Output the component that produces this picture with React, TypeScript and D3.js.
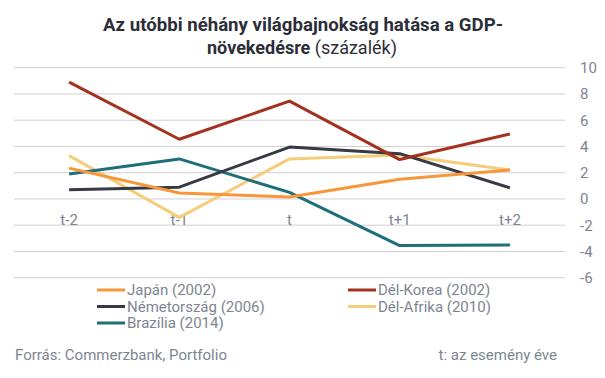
import React from "react";
import * as d3 from "d3";

const categories = ["t-2", "t-1", "t", "t+1", "t+2"];
const yTicks = [10, 8, 6, 4, 2, 0, -2, -4, -6];

const japan = [2.35, 0.45, 0.15, 1.5, 2.2];
const korea = [8.9, 4.55, 7.45, 3.0, 4.95];
const germany = [0.7, 0.9, 3.95, 3.45, 0.85];
const southAfrica = [3.3, -1.4, 3.05, 3.35, 2.2];
const brazil = [1.9, 3.05, 0.5, -3.55, -3.5];

const seriesNames = ["Japán (2002)", "Dél-Korea (2002)", "Németország (2006)", "Dél-Afrika (2010)", "Brazília (2014)"];
const seriesColors = ["#f7963b", "#a3311f", "#373a44", "#f3cd7c", "#1e6f7a"];
const seriesValues = [japan, korea, germany, southAfrica, brazil];
// draw order (bottom to top)
const drawOrder = [3, 4, 2, 0, 1];

const W = 605;
const H = 378;
const FONT = "Roboto, 'Noto Sans', sans-serif";
const GREY = "#7e8591";

export default function App() {
  const x = d3.scalePoint<string>().domain(categories).range([14, 565]).padding(0.5);
  const y = d3.scaleLinear().domain([-6, 10]).range([277.7, 67.7]);
  const line = d3
    .line<number>()
    .x((_, i) => x(categories[i]) as number)
    .y((d) => y(d));

  const legendPos = [
    { x: 97, y: 290 },
    { x: 348, y: 290 },
    { x: 97, y: 306.5 },
    { x: 348, y: 306.5 },
    { x: 97, y: 323 },
  ];

  return (
    <svg
      width={W}
      height={H}
      style={{ position: "absolute", left: 0, top: 0, background: "#fff" }}
      fontFamily={FONT}
    >
      <text x={303} y={30.5} textAnchor="middle" fontSize={18} fontWeight="bold" fill="#2c2e38" textLength={400} lengthAdjust="spacingAndGlyphs">
        Az utóbbi néhány világbajnokság hatása a GDP-
      </text>
      <text x={302} y={53.5} textAnchor="middle" fontSize={18} fill="#2c2e38">
        <tspan fontWeight="bold">növekedésre</tspan>
        <tspan> (százalék)</tspan>
      </text>

      {yTicks.map((t) => (
        <g key={t}>
          <line x1={14} x2={565} y1={y(t)} y2={y(t)} stroke="#d0d0d0" strokeWidth={1} />
          <text x={580} y={y(t)} dy="0.36em" fontSize={15} fill={GREY}>
            {t}
          </text>
        </g>
      ))}

      {categories.map((c) => (
        <text key={c} x={x(c)} y={y(-2) - 0.5} textAnchor="middle" fontSize={15} fill={GREY}>
          {c}
        </text>
      ))}

      {drawOrder.map((i) => (
        <path key={i} d={line(seriesValues[i]) || ""} fill="none" stroke={seriesColors[i]} strokeWidth={3} strokeLinejoin="round" />
      ))}

      {seriesNames.map((n, i) => (
        <g key={n}>
          <line x1={legendPos[i].x} x2={legendPos[i].x + 28} y1={legendPos[i].y} y2={legendPos[i].y} stroke={seriesColors[i]} strokeWidth={3} />
          <text x={legendPos[i].x + 30} y={legendPos[i].y} dy="0.36em" fontSize={15} fill={GREY}>
            {n}
          </text>
        </g>
      ))}

      <text x={15} y={360} fontSize={15} fill={GREY}>
        Forrás: Commerzbank, Portfolio
      </text>
      <text x={557} y={360} textAnchor="end" fontSize={15} fill={GREY}>
        t: az esemény éve
      </text>
    </svg>
  );
}
